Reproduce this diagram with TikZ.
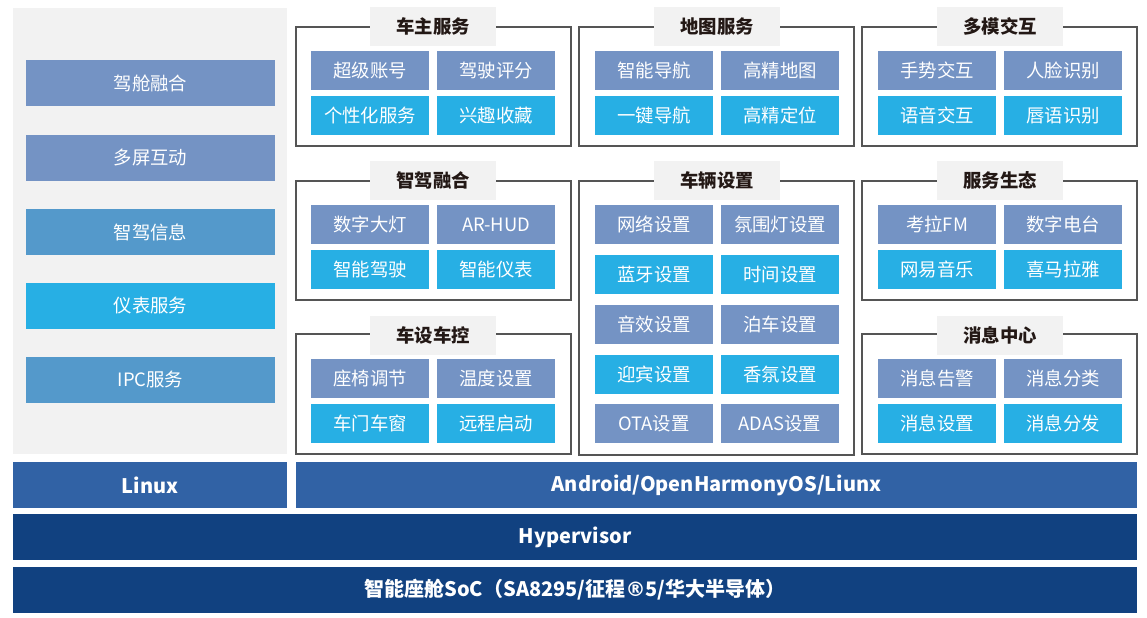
\documentclass[tikz,border=0pt]{standalone}
\usepackage{fontspec}
\setmainfont{Noto Sans CJK SC}
\newfontfamily\cjk{Noto Sans CJK SC}
\newfontfamily\markfont{DejaVu Sans}

\definecolor{slateblue}{RGB}{116,147,196}
\definecolor{skycyan}{RGB}{39,175,228}
\definecolor{midblue}{RGB}{84,153,203}
\definecolor{panelgray}{RGB}{242,242,242}
\definecolor{osblue}{RGB}{49,98,165}
\definecolor{deepblue}{RGB}{17,65,128}
\definecolor{frameline}{RGB}{85,85,85}
\definecolor{titleink}{RGB}{35,24,21}

\tikzset{every picture/.style={line width=0.75pt}}
\tikzset{
  cell/.style={inner sep=0pt, minimum width=88.5pt, minimum height=29.25pt, text=white, font=\cjk\fontsize{13.8pt}{16pt}\selectfont},
  slatecell/.style={cell, fill=slateblue},
  cyancell/.style={cell, fill=skycyan},
  sidecell/.style={cell, minimum width=186.75pt, minimum height=34.5pt},
  grouptitle/.style={inner sep=0pt, minimum width=94.5pt, minimum height=29.25pt, fill=panelgray, text=titleink, font=\cjk\bfseries\fontsize{13.8pt}{16pt}\selectfont},
  groupframe/.style={draw=frameline, line width=1.1pt, fill=white},
  osbar/.style={inner sep=0pt, minimum height=34.5pt, text=white, font=\cjk\bfseries\fontsize{15pt}{18pt}\selectfont}
}

\begin{document}
\begin{tikzpicture}[x=0.75pt,y=0.75pt,yscale=-1,xscale=1]
	\useasboundingbox (0,0) rectangle (1147,618);

	%Shape: Rectangle [left panel]
	\fill [panelgray] (13,8) rectangle (287,454);
	% Text Node
	\node [sidecell, fill=slateblue] (jcrh) at (150.5,83) {驾舱融合};
	\node [sidecell, fill=slateblue] (dphd) at (150.5,158) {多屏互动};
	\node [sidecell, fill=midblue] (zjxx) at (150.5,232) {智驾信息};
	\node [sidecell, fill=skycyan] (ybfw) at (150.5,306) {仪表服务};
	\node [sidecell, fill=midblue] (ipcfw) at (150.5,380) {IPC服务};

	%Shape: Rectangle [车主服务]
	\draw [groupframe] (296,27) rectangle (571,146);
	\node [grouptitle] (czfw) at (433,26.5) {车主服务};
	\node [slatecell] (cjzh) at (370,70.5) {超级账号};
	\node [slatecell] (jspf) at (496,70.5) {驾驶评分};
	\node [cyancell] (gxhfw) at (370,115.5) {个性化服务};
	\node [cyancell] (xqsc) at (496,115.5) {兴趣收藏};

	%Shape: Rectangle [地图服务]
	\draw [groupframe] (579,27) rectangle (854,146);
	\node [grouptitle] (dtfw) at (717,26.5) {地图服务};
	\node [slatecell] (zndh) at (654,70.5) {智能导航};
	\node [slatecell] (gjdt) at (780,70.5) {高精地图};
	\node [cyancell] (yjdh) at (654,115.5) {一键导航};
	\node [cyancell] (gjdw) at (780,115.5) {高精定位};

	%Shape: Rectangle [多模交互]
	\draw [groupframe] (862,27) rectangle (1137,146);
	\node [grouptitle] (dmjh) at (1000,26.5) {多模交互};
	\node [slatecell] (ssjh) at (937,70.5) {手势交互};
	\node [slatecell] (rlsb) at (1063,70.5) {人脸识别};
	\node [cyancell] (yyjh) at (937,115.5) {语音交互};
	\node [cyancell] (cysb) at (1063,115.5) {唇语识别};

	%Shape: Rectangle [智驾融合]
	\draw [groupframe] (296,181) rectangle (571,300);
	\node [grouptitle] (zjrh) at (433,180.5) {智驾融合};
	\node [slatecell] (szdd) at (370,224.5) {数字大灯};
	\node [slatecell] (arhud) at (496,224.5) {AR-HUD};
	\node [cyancell] (znjs) at (370,269.5) {智能驾驶};
	\node [cyancell] (znyb) at (496,269.5) {智能仪表};

	%Shape: Rectangle [车辆设置]
	\draw [groupframe] (579,181) rectangle (854,455);
	\node [grouptitle] (clsz) at (717,180.5) {车辆设置};
	\node [slatecell] (wlsz) at (654,224.5) {网络设置};
	\node [slatecell] (fwdsz) at (780,224.5) {氛围灯设置};
	\node [cyancell] (lysz) at (654,274.5) {蓝牙设置};
	\node [cyancell] (sjsz) at (780,274.5) {时间设置};
	\node [slatecell] (yxsz) at (654,324.5) {音效设置};
	\node [slatecell] (bcsz) at (780,324.5) {泊车设置};
	\node [cyancell] (ybsz) at (654,374.5) {迎宾设置};
	\node [cyancell] (xfsz) at (780,374.5) {香氛设置};
	\node [slatecell] (otasz) at (654,423.5) {OTA设置};
	\node [slatecell] (adassz) at (780,423.5) {ADAS设置};

	%Shape: Rectangle [服务生态]
	\draw [groupframe] (862,181) rectangle (1137,300);
	\node [grouptitle] (fwst) at (1000,180.5) {服务生态};
	\node [slatecell] (klfm) at (937,224.5) {考拉FM};
	\node [slatecell] (szdt) at (1063,224.5) {数字电台};
	\node [cyancell] (wyyy) at (937,269.5) {网易音乐};
	\node [cyancell] (xmly) at (1063,269.5) {喜马拉雅};

	%Shape: Rectangle [车设车控]
	\draw [groupframe] (296,334) rectangle (571,454);
	\node [grouptitle] (csck) at (433,335.5) {车设车控};
	\node [slatecell] (zytj) at (370,378.5) {座椅调节};
	\node [slatecell] (wdsz) at (496,378.5) {温度设置};
	\node [cyancell] (cmcc) at (370,423.5) {车门车窗};
	\node [cyancell] (ycqd) at (496,423.5) {远程启动};

	%Shape: Rectangle [消息中心]
	\draw [groupframe] (862,334) rectangle (1137,454);
	\node [grouptitle] (xxzx) at (1000,335.5) {消息中心};
	\node [slatecell] (xxgj) at (937,378.5) {消息告警};
	\node [slatecell] (xxfl) at (1063,378.5) {消息分类};
	\node [cyancell] (xxsz) at (937,423.5) {消息设置};
	\node [cyancell] (xxff) at (1063,423.5) {消息分发};

	% Text Node [system layers]
	\node [osbar, fill=osblue, minimum width=205.5pt] (linux) at (150,485) {Linux};
	\node [osbar, fill=osblue, minimum width=630.75pt] (android) at (716.5,485) {Android/OpenHarmonyOS/Liunx};
	\node [osbar, fill=deepblue, minimum width=843pt] (hyper) at (575,537) {Hypervisor};
	\node [osbar, fill=deepblue, minimum width=843pt] (soc) at (575,590) {智能座舱SoC（SA8295/征程{\markfont\bfseries ®}5/华大半导体）};

\end{tikzpicture}
\end{document}
